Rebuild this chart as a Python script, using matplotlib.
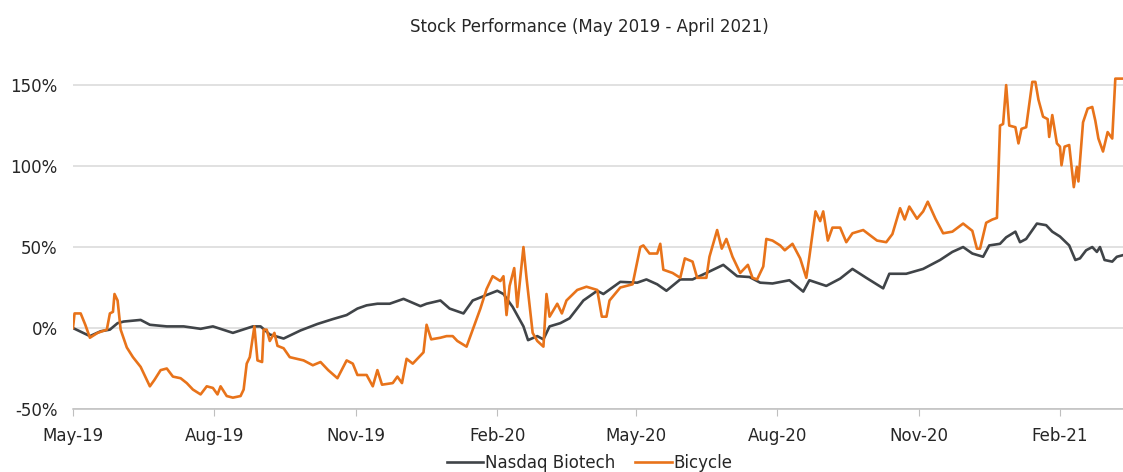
import matplotlib
matplotlib.use("Agg")
import matplotlib.pyplot as plt
import matplotlib.dates as mdates
from matplotlib.ticker import FuncFormatter, MultipleLocator
import pandas as pd

# cumulative performance (%), x given as days after 1 May 2019
start = pd.Timestamp("2019-05-01")

nasdaq_days = [0, 11, 18, 24, 29, 33, 44, 50, 61, 72, 83, 91, 104, 117, 122, 128, 137, 148,
               159, 169, 178, 185, 191, 198, 206, 215, 226, 230, 239, 245, 254, 260, 276, 280,
               286, 293, 296, 302, 306, 310, 317, 323, 332, 341, 345, 356, 367, 373, 380, 386,
               395, 403, 412, 423, 432, 440, 447, 455, 466, 475, 479, 490, 499, 507, 516, 527,
               531, 542, 553, 564, 572, 579, 585, 592, 596, 603, 607, 613, 616, 620, 627, 633,
               637, 642, 648, 652, 655, 659, 663, 666, 668, 671, 676, 679, 683]
nasdaq_perf = [0, -5, -2, -1, 3, 4, 5, 2, 1, 1, -0.5, 1, -3, 1, 1, -4, -6.5, -1.5,
               2.5, 5.5, 8, 12, 14, 15, 15, 18, 13.5, 15, 17, 12, 9, 17, 23, 21,
               13, 1, -7.5, -5, -7, 1, 3, 6, 17, 23, 21, 28.5, 28, 30, 27, 23,
               30, 30, 34, 39, 32, 31.5, 28, 27.5, 29.5, 22.5, 29.5, 26, 30.5, 36.5, 31, 24.5,
               33.5, 33.5, 36.5, 42, 47, 50, 46, 44, 51, 52, 56, 59.5, 53, 55, 64.5, 63.5,
               59.5, 56.5, 51, 42, 43, 48, 50, 47, 50, 42, 41, 44, 45]

bicycle_days = [0, 1, 5, 8, 11, 16, 22, 24, 26, 27, 29, 31, 35, 39, 44, 50, 53, 57, 61, 65,
                70, 74, 78, 83, 87, 91, 94, 96, 100, 104, 109, 111, 113, 115, 118, 120, 123,
                124, 126, 128, 131, 133, 137, 141, 150, 156, 161, 166, 172, 178, 182, 185, 191,
                195, 198, 201, 208, 211, 214, 217, 221, 224, 228, 230, 233, 239, 243, 247, 250,
                256, 260, 265, 269, 273, 278, 280, 282, 284, 287, 289, 293, 295, 299, 302, 306,
                308, 310, 315, 318, 321, 328, 334, 341, 344, 347, 349, 356, 364, 369, 371, 375,
                380, 382, 384, 390, 395, 398, 403, 406, 412, 414, 419, 422, 425, 429, 434, 439,
                442, 445, 449, 451, 455, 460, 463, 468, 473, 477, 479, 483, 486, 488, 491, 494,
                499, 503, 507, 514, 523, 529, 533, 538, 541, 544, 549, 553, 556, 561, 566, 572,
                579, 585, 588, 590, 594, 598, 601, 603, 605, 607, 609, 613, 615, 617, 620, 624,
                626, 628, 631, 634, 635, 637, 640, 642, 643, 645, 648, 651, 653, 654, 657, 660,
                663, 665, 667, 670, 673, 676, 678, 683]
bicycle_perf = [0, 9, 9, 2, -6, -3, -1, 9, 10, 21, 17, -1, -12, -18, -24, -36, -32, -26, -25, -30,
                -31, -34, -38, -41, -36, -37, -41, -36, -42, -43, -42, -38, -22, -18, 1, -20, -21,
                -1, -1, -8, -3, -11, -12.5, -18, -20, -23, -21, -26, -31, -20, -22, -29, -29,
                -36, -26, -35, -34, -30, -34, -19, -22, -19, -15, 2, -7, -6, -5, -5, -8,
                -11.5, -1, 12, 24, 32, 29, 32, 8, 26, 37, 13, 50, 31, -3, -8, -11.5,
                21, 7, 15, 9, 17, 23.5, 25.5, 23.5, 7, 7, 17, 25, 27, 50, 51, 46,
                46, 52, 36, 34, 31, 43, 41, 31, 31, 44, 60.5, 49, 55, 44, 34, 39,
                31, 30, 38, 55, 54, 51, 48, 52, 43, 31, 44, 72, 66, 72, 54, 62,
                62, 53, 58.5, 60.5, 54, 53, 58, 74, 67, 75, 67.5, 72, 78, 67.5, 58.5, 59.5,
                64.5, 60, 49, 49, 65, 67, 68, 125, 126, 150, 125, 124, 114, 123, 124, 152,
                152, 141, 130.5, 129, 118, 131.5, 114, 112, 100.5, 112, 113, 87, 99.5, 90.5, 127, 135.5,
                136.5, 128, 117, 109, 121, 117, 154, 154]

nasdaq_dates = start + pd.to_timedelta(nasdaq_days, unit="D")
bicycle_dates = start + pd.to_timedelta(bicycle_days, unit="D")

text_col = "#262626"
grid_col = "#d9d9d9"

fig = plt.figure(figsize=(11.23, 4.72), dpi=100)
ax = fig.add_axes([0.065, 0.1335, 0.935, 0.7205])

ax.plot(nasdaq_dates, nasdaq_perf, color="#404448", lw=1.9, label="Nasdaq Biotech", zorder=3)
ax.plot(bicycle_dates, bicycle_perf, color="#E8731A", lw=1.9, label="Bicycle", zorder=4)

ax.set_xlim(start, start + pd.Timedelta(days=683))
ax.set_ylim(-50, 160)
ax.yaxis.set_major_locator(MultipleLocator(50))
ax.yaxis.set_major_formatter(FuncFormatter(lambda v, p: f"{v:.0f}%"))
ax.grid(axis="y", color=grid_col, lw=1.1, zorder=0)

ax.xaxis.set_major_locator(mdates.MonthLocator(bymonth=[2, 5, 8, 11]))
ax.xaxis.set_major_formatter(mdates.DateFormatter("%b-%y"))

for s in ["top", "right", "left"]:
    ax.spines[s].set_visible(False)
ax.spines["bottom"].set_color("#bfbfbf")
ax.spines["bottom"].set_linewidth(1.1)

ax.tick_params(axis="y", length=0, pad=11, labelsize=12, labelcolor=text_col)
ax.tick_params(axis="x", length=5, color="#bfbfbf", pad=8, labelsize=12, labelcolor=text_col)

fig.text(0.5245, 0.943, "Stock Performance (May 2019 - April 2021)", ha="center", va="center",
         fontsize=12, color=text_col)

fig.legend(loc="center", bbox_to_anchor=(0.525, 0.02), ncol=2, frameon=False, fontsize=12,
           handlelength=2.2, handletextpad=0.1, columnspacing=1.2, labelcolor=text_col)

fig.savefig("out.png", dpi=100)
